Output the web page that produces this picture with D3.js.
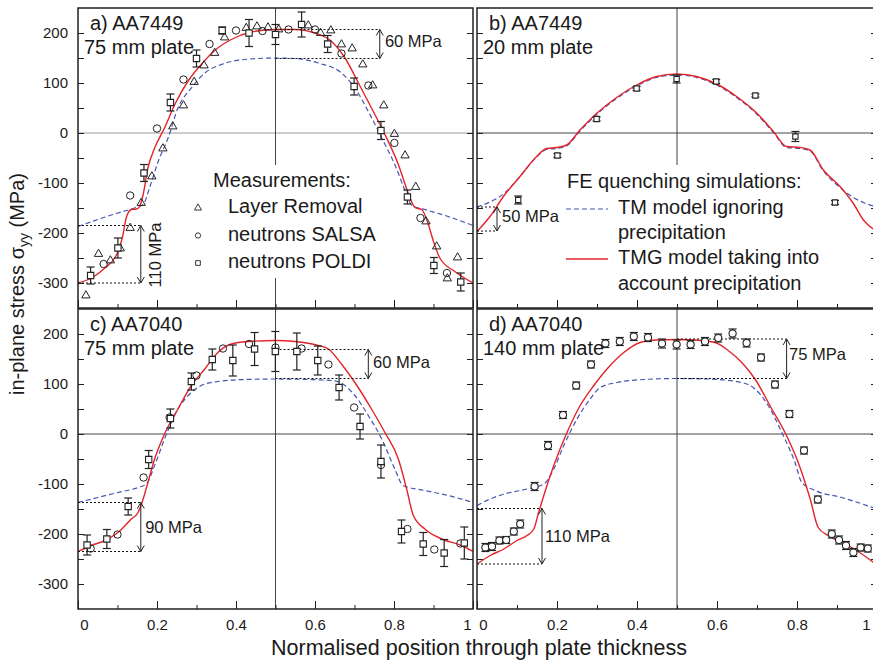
<!DOCTYPE html>
<html>
<head>
<meta charset="utf-8">
<script src="https://cdn.jsdelivr.net/npm/d3@7"></script>
<style>
  body { margin: 0; background: #fff; }
  text { font-family: "Liberation Sans", Arial, sans-serif; fill: #1a1a1a; }
</style>
</head>
<body>
<script>
// axis ticks
const xTicks = [0, 0.2, 0.4, 0.6, 0.8, 1];
const xMinor = [0.1, 0.3, 0.5, 0.7, 0.9];
const yTicks = [-300, -200, -100, 0, 100, 200];
const yMinor = [-250, -150, -50, 50, 150];

// a) AA7449, 75 mm plate
const aLayerX = [0.02,0.052,0.082,0.107,0.132,0.160,0.187,0.215,0.240,0.267,0.294,0.319,0.346,0.371,0.426,0.453,0.481,0.508,0.583,0.614,0.640,0.667,0.694,0.721,0.746,0.774,0.801,0.828,0.855,0.881,0.908,0.935,0.961];
const aLayerY = [-325,-242,-255,-231,-190,-140,-87,-31,13,55,102,135,160,191,210,213,211,207,215,200,205,177,169,137,95,55,-2,-45,-108,-177,-227,-291,-249];
const aSalsaX = [0.065,0.132,0.2,0.267,0.333,0.4,0.467,0.533,0.6,0.667,0.735,0.801,0.867,0.934];
const aSalsaY = [-262,-125,9,107,178,205,204,207,207,159,95,-20,-170,-280];
const aPoldiX = [0.032,0.101,0.167,0.234,0.300,0.365,0.433,0.500,0.566,0.632,0.699,0.767,0.834,0.901,0.969];
const aPoldiY = [-285,-230,-80,61,149,205,200,197,217,178,93,5,-128,-265,-298];
const aPoldiErr = [17,20,17,17,17,7,27,20,25,17,17,18,14,16,18];
const aTmgX = [0,0.034,0.068,0.093,0.105,0.114,0.122,0.135,0.148,0.156,0.165,0.177,0.194,0.219,0.245,0.278,0.312,0.346,0.388,0.439,0.5,0.55,0.6,0.642,0.676,0.71,0.743,0.777,0.811,0.836,0.853,0.87,0.887,0.9,0.916,0.954,1];
const aTmgY = [-300,-290,-270,-250,-230,-203,-170,-153,-152,-147,-123,-70,-30,10,57,103,137,165,187,202,207,207,200,183,150,100,50,-3,-63,-120,-149,-153,-183,-217,-250,-277,-300];
const aTmX = [0,0.05,0.101,0.143,0.165,0.181,0.203,0.228,0.253,0.287,0.321,0.363,0.422,0.5,0.55,0.608,0.667,0.701,0.735,0.769,0.802,0.832,0.845,0.878,0.937,1];
const aTmY = [-187,-173,-160,-150,-143,-110,-57,-10,50,90,120,137,147,150,149,140,120,90,43,-10,-63,-123,-145,-153,-167,-185];

// b) AA7449, 20 mm plate
const bPoldiX = [0.103,0.201,0.299,0.399,0.499,0.598,0.696,0.796,0.895];
const bPoldiY = [-134,-45,28,89,108,103,75,-7,-139];
const bPoldiErr = [8,4,4,4,8,4,3,10,4];
const bTmgX = [0,0.0325,0.066,0.1075,0.149,0.174,0.199,0.224,0.2575,0.299,0.349,0.399,0.449,0.5,0.549,0.599,0.649,0.699,0.741,0.774,0.8075,0.8325,0.866,0.9075,0.941,0.966,1];
const bTmgY = [-197,-167,-127,-87,-47,-31,-29,-24,6,39,71,96,113,118,113,98,73,40,3,-27,-29,-34,-74,-107,-141,-174,-197];
const bTmX = [0,0.0325,0.066,0.1075,0.149,0.174,0.199,0.224,0.2575,0.299,0.349,0.399,0.449,0.5,0.549,0.599,0.649,0.699,0.741,0.774,0.8075,0.8325,0.866,0.9075,0.941,0.966,1];
const bTmY = [-148,-138,-122,-87,-48,-33,-31,-26,4,37,69,94,111,116,111,96,71,38,1,-29,-31,-36,-76,-109,-129,-139,-148];

// c) AA7040, 75 mm plate
const cSalsaX = [0.032,0.1,0.166,0.232,0.3,0.367,0.433,0.5,0.566,0.634,0.699,0.767,0.834,0.902,0.968];
const cSalsaY = [-229,-201,-87,33,117,171,180,173,171,139,53,-62,-190,-231,-219];
const cPoldiX = [0.023,0.073,0.127,0.179,0.234,0.287,0.340,0.392,0.447,0.4996,0.554,0.607,0.661,0.714,0.767,0.819,0.874,0.927,0.978];
const cPoldiY = [-222,-210,-145,-51,31,105,149,147,170,165,165,147,93,15,-55,-195,-220,-238,-218];
const cPoldiErr = [20,19,17,18,19,17,21,31,33,40,37,29,25,25,33,23,23,27,32];
const cTmgX = [0,0.034,0.068,0.101,0.135,0.152,0.165,0.177,0.194,0.219,0.253,0.287,0.321,0.354,0.388,0.43,0.5,0.549,0.608,0.634,0.667,0.701,0.743,0.777,0.811,0.832,0.849,0.878,0.921,0.971,1];
const cTmgY = [-235,-223,-213,-197,-170,-157,-130,-97,-50,0,50,97,130,163,180,185,187,185,177,170,140,103,50,3,-50,-110,-163,-190,-210,-223,-235];
const cTmX = [0,0.05,0.101,0.152,0.173,0.194,0.219,0.253,0.287,0.312,0.354,0.422,0.5,0.583,0.642,0.676,0.701,0.735,0.769,0.802,0.823,0.878,0.937,1];
const cTmY = [-137,-127,-117,-107,-100,-63,-10,50,83,97,105,109,110,109,107,97,77,37,-10,-70,-103,-113,-123,-137];

// d) AA7040, 140 mm plate
const dSalsaX = [0.021,0.0375,0.056,0.073,0.092,0.108,0.144,0.1775,0.215,0.248,0.285,0.321,0.357,0.392,0.4275,0.4625,0.499,0.534,0.57,0.603,0.639,0.674,0.71,0.745,0.781,0.8175,0.852,0.887,0.905,0.9225,0.941,0.959,0.977];
const dSalsaY = [-227,-225,-213,-212,-195,-180,-105,-23,38,97,139,181,185,195,193,181,179,179,185,192,201,182,153,99,40,-33,-131,-200,-212,-223,-237,-227,-229];
const dSalsaErr = [8,8,7,7,7,8,8,8,7,7,7,8,8,8,8,9,9,8,8,8,9,8,7,7,7,7,7,8,8,8,8,7,7];
const dTmgX = [0,0.033,0.067,0.1,0.125,0.142,0.154,0.167,0.192,0.225,0.258,0.292,0.325,0.367,0.408,0.45,0.5,0.545,0.595,0.628,0.662,0.695,0.737,0.77,0.803,0.833,0.853,0.878,0.928,0.962,1];
const dTmgY = [-260,-243,-230,-213,-203,-190,-157,-123,-63,3,57,97,130,163,183,188,189,188,183,167,143,110,50,3,-57,-130,-187,-203,-223,-240,-262];
const dTmX = [0,0.042,0.083,0.125,0.167,0.192,0.217,0.25,0.283,0.308,0.35,0.417,0.5,0.578,0.662,0.695,0.728,0.762,0.795,0.812,0.845,0.912,1];
const dTmY = [-143,-127,-117,-110,-100,-70,-23,30,70,93,103,109,111,110,103,90,57,3,-57,-97,-113,-127,-150];

// brackets: [x from, x to (arrow), upper, lower, label]
const aBrackets = [[0.5, 0.764, 207, 149, "60 MPa"], [0, 0.159, -185, -300, "110 MPa"]];
const bBrackets = [[0, 0.05, -148, -196, "50 MPa"]];
const cBrackets = [[0.5, 0.735, 169, 111, "60 MPa"], [0, 0.159, -137, -235, "90 MPa"]];
const dBrackets = [[0.5, 0.774, 190, 111, "75 MPa"], [0, 0.1625, -149, -260, "110 MPa"]];

const zip = (xs, ys, es) => xs.map((v, i) => ({x: v, y: ys[i], e: es ? es[i] : 0}));

const RED = "#e3242b", BLUE = "#4656b0";
const FONT = "'Liberation Sans', Arial, sans-serif";
const svg = d3.select("body").append("svg").attr("width", 873).attr("height", 661);

const panels = [
  {id: "a", left: 78, top: 8, w: 395, h: 300, t1: "a) AA7449", t2: "75 mm plate", yLab: true, xLab: false,
   tm: zip(aTmX, aTmY), tmg: zip(aTmgX, aTmgY), layer: zip(aLayerX, aLayerY), salsa: zip(aSalsaX, aSalsaY),
   poldi: zip(aPoldiX, aPoldiY, aPoldiErr), brackets: aBrackets, zeroCol: "#9a9a9a",
   box: [188, 165, 195, 113]},
  {id: "b", left: 477, top: 8, w: 400, h: 300, t1: "b) AA7449", t2: "20 mm plate", yLab: false, xLab: false,
   tm: zip(bTmX, bTmY), tmg: zip(bTmgX, bTmgY), layer: [], salsa: [],
   poldi: zip(bPoldiX, bPoldiY, bPoldiErr), poldiSize: 28, brackets: bBrackets, zeroCol: "#444",
   box: [560, 165, 245, 142]},
  {id: "c", left: 78, top: 309, w: 395, h: 300, t1: "c) AA7040", t2: "75 mm plate", yLab: true, xLab: true, lastDx: -6,
   tm: zip(cTmX, cTmY), tmg: zip(cTmgX, cTmgY), layer: [], salsa: zip(cSalsaX, cSalsaY),
   poldi: zip(cPoldiX, cPoldiY, cPoldiErr), brackets: cBrackets, zeroCol: "#444"},
  {id: "d", left: 477, top: 309, w: 400, h: 300, t1: "d) AA7040", t2: "140 mm plate", yLab: false, xLab: true, lastDx: -11,
   tm: zip(dTmX, dTmY), tmg: zip(dTmgX, dTmgY), layer: [], salsa: [], salsaErr: zip(dSalsaX, dSalsaY, dSalsaErr),
   poldi: [], brackets: dBrackets, zeroCol: "#444"}
];

function arrowV(g, x, yA, yB) {
  g.append("line").attr("x1", x).attr("x2", x).attr("y1", yA).attr("y2", yB)
    .attr("stroke", "#222").attr("stroke-width", 1);
  g.append("path").attr("d", `M${x-3.5},${yA+6}L${x},${yA}L${x+3.5},${yA+6}`)
    .attr("fill", "none").attr("stroke", "#222");
  g.append("path").attr("d", `M${x-3.5},${yB-6}L${x},${yB}L${x+3.5},${yB-6}`)
    .attr("fill", "none").attr("stroke", "#222");
}

function drawPanel(p) {
  const x = d3.scaleLinear().domain([0, 1]).range([p.left, p.left + p.w]);
  const y = d3.scaleLinear().domain([-350, 250]).range([p.top + p.h, p.top]);
  const g = svg.append("g");

  g.append("clipPath").attr("id", "clip-" + p.id)
    .append("rect").attr("x", p.left).attr("y", p.top).attr("width", p.w).attr("height", p.h);

  // reference lines
  g.append("line").attr("x1", p.left).attr("x2", p.left + p.w).attr("y1", y(0)).attr("y2", y(0))
    .attr("stroke", p.zeroCol).attr("stroke-width", 1);
  g.append("line").attr("x1", x(0.5)).attr("x2", x(0.5)).attr("y1", p.top).attr("y2", p.top + p.h)
    .attr("stroke", "#444").attr("stroke-width", 1);
  if (p.box) {
    g.append("rect").attr("x", p.box[0]).attr("y", p.box[1]).attr("width", p.box[2]).attr("height", p.box[3])
      .attr("fill", "#fff");
  }

  // axes, ticks inside
  const fmt = v => String(v);
  const ax = g.append("g").attr("transform", `translate(0,${p.top + p.h})`)
    .call(d3.axisBottom(x).tickValues(xTicks).tickSize(-8).tickPadding(10)
      .tickFormat(p.xLab ? fmt : () => ""));
  ax.selectAll("text").attr("font-size", 15).style("font-family", FONT)
    .attr("dx", d => d === 0 ? 6 : d === 1 ? (p.lastDx || -6) : 0);
  g.append("g").attr("transform", `translate(0,${p.top + p.h})`)
    .call(d3.axisBottom(x).tickValues(xMinor).tickSize(-4).tickFormat(() => ""));
  const ay = g.append("g").attr("transform", `translate(${p.left},0)`)
    .call(d3.axisLeft(y).tickValues(yTicks).tickSize(-6).tickPadding(10)
      .tickFormat(p.yLab ? fmt : () => ""));
  ay.selectAll("text").attr("font-size", 15).style("font-family", FONT);
  g.append("g").attr("transform", `translate(${p.left},0)`)
    .call(d3.axisLeft(y).tickValues(yMinor).tickSize(-6).tickFormat(() => ""));
  g.append("g").attr("transform", `translate(${p.left + p.w},0)`)
    .call(d3.axisRight(y).tickValues(yTicks.concat(yMinor)).tickSize(-6).tickFormat(() => ""));
  g.selectAll(".domain").remove();
  g.selectAll(".tick line").attr("stroke", "#222");

  // model curves
  const line = d3.line().x(d => x(d.x)).y(d => y(d.y)).curve(d3.curveMonotoneX);
  const curves = g.append("g").attr("clip-path", `url(#clip-${p.id})`);
  curves.append("path").datum(p.tm).attr("d", line).attr("fill", "none")
    .attr("stroke", BLUE).attr("stroke-width", 1.2).attr("stroke-dasharray", "5,3");
  curves.append("path").datum(p.tmg).attr("d", line).attr("fill", "none")
    .attr("stroke", RED).attr("stroke-width", 1.4);

  // brackets
  p.brackets.forEach(b => {
    [b[2], b[3]].forEach(v => {
      g.append("line").attr("x1", x(b[0])).attr("x2", x(b[1])).attr("y1", y(v)).attr("y2", y(v))
        .attr("stroke", "#111").attr("stroke-width", 1).attr("stroke-dasharray", "2,2");
    });
    arrowV(g, x(b[1]), y(b[2]), y(b[3]));
  });

  // measurements
  const tri = d3.symbol(d3.symbolTriangle, 30)();
  g.selectAll(null).data(p.layer).join("path").attr("d", tri)
    .attr("transform", d => `translate(${x(d.x)},${y(d.y)})`)
    .attr("fill", "none").attr("stroke", "#222").attr("stroke-width", 1);
  g.selectAll(null).data(p.salsa).join("circle")
    .attr("cx", d => x(d.x)).attr("cy", d => y(d.y)).attr("r", 3.7)
    .attr("fill", "none").attr("stroke", "#222").attr("stroke-width", 1);

  const errBars = (data, shape, size) => {
    const eg = g.append("g");
    data.forEach(d => {
      const cx = x(d.x), y1 = y(d.y + d.e), y2 = y(d.y - d.e);
      eg.append("line").attr("x1", cx).attr("x2", cx).attr("y1", y1).attr("y2", y2)
        .attr("stroke", "#222").attr("stroke-width", 1.2);
      [y1, y2].forEach(yy => eg.append("line").attr("x1", cx - 4).attr("x2", cx + 4)
        .attr("y1", yy).attr("y2", yy).attr("stroke", "#222").attr("stroke-width", 1.2));
    });
    eg.selectAll(null).data(data).join("path")
      .attr("d", d3.symbol(shape, size)())
      .attr("transform", d => `translate(${x(d.x)},${y(d.y)})`)
      .attr("fill", "#fff").attr("stroke", "#222").attr("stroke-width", 1.1);
  };
  errBars(p.poldi, d3.symbolSquare, p.poldiSize || 40);
  if (p.salsaErr) errBars(p.salsaErr, d3.symbolCircle, 40);

  // frame
  g.append("rect").attr("x", p.left).attr("y", p.top).attr("width", p.w).attr("height", p.h)
    .attr("fill", "none").attr("stroke", "#222").attr("stroke-width", 1.5);

  // panel titles
  g.append("text").attr("x", p.left + 12).attr("y", p.top + 22).attr("font-size", 20).text(p.t1);
  g.append("text").attr("x", p.left + 6).attr("y", p.top + 46).attr("font-size", 20).text(p.t2);
  return {x, y, g};
}

const scales = panels.map(drawPanel);

// bracket labels
const ann = svg.append("g").attr("font-size", 16.5);
function label(s, xv, yv, txt, rot) {
  const t = ann.append("text").attr("dominant-baseline", "middle").text(txt);
  if (rot) {
    t.attr("text-anchor", "middle").attr("dominant-baseline", "auto")
      .attr("transform", `translate(${s.x(xv)},${s.y(yv)}) rotate(-90)`);
  } else {
    t.attr("x", s.x(xv)).attr("y", s.y(yv));
  }
}
label(scales[0], aBrackets[0][1] + 0.013, 180, aBrackets[0][4]);
label(scales[0], 0.21, -244, aBrackets[1][4], true);
label(scales[1], 0.0625, -169, bBrackets[0][4]);
label(scales[2], cBrackets[0][1] + 0.012, 140, cBrackets[0][4]);
label(scales[2], 0.17, -190, cBrackets[1][4]);
label(scales[3], dBrackets[0][1] + 0.006, 157, dBrackets[0][4]);
label(scales[3], 0.17, -208, dBrackets[1][4]);

// legend: measurements (panel a)
const legA = svg.append("g").attr("font-size", 20);
legA.append("text").attr("x", 213).attr("y", 182).attr("dominant-baseline", "middle").text("Measurements:");
const legItems = [
  ["Layer Removal", d3.symbolTriangle],
  ["neutrons SALSA", d3.symbolCircle],
  ["neutrons POLDI", d3.symbolSquare]
];
legItems.forEach((it, i) => {
  const yy = 208 + i * 27.5;
  legA.append("path").attr("d", d3.symbol(it[1], 22)()).attr("transform", `translate(198,${yy})`)
    .attr("fill", "none").attr("stroke", "#222").attr("stroke-width", 0.9);
  legA.append("text").attr("x", 228).attr("y", yy).attr("dominant-baseline", "middle").text(it[0]);
});

// legend: simulations (panel b)
const legB = svg.append("g").attr("font-size", 20);
legB.append("text").attr("x", 567).attr("y", 183).attr("dominant-baseline", "middle").text("FE quenching simulations:");
legB.append("line").attr("x1", 566).attr("x2", 608).attr("y1", 209).attr("y2", 209)
  .attr("stroke", BLUE).attr("stroke-width", 1.2).attr("stroke-dasharray", "5,3");
legB.append("line").attr("x1", 566).attr("x2", 608).attr("y1", 259).attr("y2", 259)
  .attr("stroke", RED).attr("stroke-width", 1.4);
[["TM model ignoring", 209], ["precipitation", 234], ["TMG model taking into", 259], ["account precipitation", 285]]
  .forEach(r => legB.append("text").attr("x", 618).attr("y", r[1]).attr("dominant-baseline", "middle").text(r[0]));

// axis titles
const yt = svg.append("text").attr("font-size", 20).attr("text-anchor", "middle")
  .attr("transform", "translate(24,284) rotate(-90)");
yt.append("tspan").text("in-plane stress \u03c3");
yt.append("tspan").attr("font-size", 14).attr("dy", 5).text("yy");
yt.append("tspan").attr("dy", -5).text(" (MPa)");
svg.append("text").attr("x", 479).attr("y", 655).attr("font-size", 21.5).attr("text-anchor", "middle")
  .text("Normalised position through plate thickness");
</script>
</body>
</html>
